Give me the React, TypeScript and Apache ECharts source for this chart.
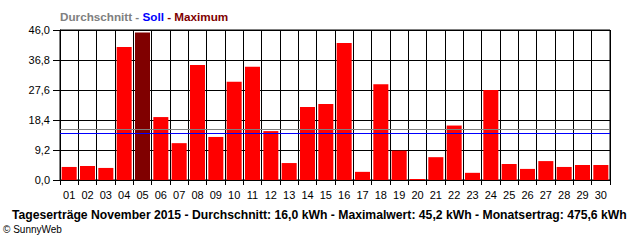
import React, { useEffect, useRef } from "react";
import * as echarts from "echarts";

const days = ["01","02","03","04","05","06","07","08","09","10","11","12","13","14","15","16","17","18","19","20","21","22","23","24","25","26","27","28","29","30"];
const yields = [4.0,4.3,3.7,40.8,45.2,19.3,11.3,35.3,13.2,30.1,34.7,15.0,5.2,22.4,23.3,42.0,2.5,29.4,9.0,0.3,7.0,16.7,2.2,27.6,4.9,3.4,5.8,4.0,4.6,4.6];
const maxIndex = 4;
const averageLine = 15.5;
const targetLine = 14.3;
const yMax = 46;
const yStep = 9.2;
const footer = "Tageserträge November 2015 - Durchschnitt: 16,0 kWh - Maximalwert: 45,2 kWh - Monatsertrag: 475,6 kWh";

const FONT = "'Liberation Sans', Arial, sans-serif";

const refLine = (value: number, color: string, z: number) => ({
  type: "line",
  data: [],
  z,
  color,
  markLine: {
    silent: true,
    symbol: "none",
    label: { show: false },
    lineStyle: { color, width: 1, type: "solid" },
    data: [{ yAxis: value }],
  },
});

export default function App() {
  const ref = useRef<HTMLDivElement>(null);
  useEffect(() => {
    if (!ref.current) return;
    const chart = echarts.init(ref.current, undefined, { renderer: "svg" });
    chart.setOption({
      animation: false,
      backgroundColor: "#ffffff",
      textStyle: { fontFamily: FONT },
      title: {
        left: 55,
        top: 5,
        text: "{a|Durchschnitt - }{b|Soll}{c| - Maximum}",
        textStyle: {
          rich: {
            a: { color: "#808080", fontWeight: "bold", fontSize: 11.7, fontFamily: FONT },
            b: { color: "#0000ff", fontWeight: "bold", fontSize: 11.7, fontFamily: FONT },
            c: { color: "#800000", fontWeight: "bold", fontSize: 11.7, fontFamily: FONT },
          },
        },
      },
      grid: { left: 60, right: 30, top: 30, bottom: 60, show: true, borderColor: "#000", borderWidth: 1 },
      xAxis: {
        type: "category",
        data: days,
        boundaryGap: true,
        axisLine: { lineStyle: { color: "#000", width: 1 } },
        axisTick: { show: true, length: 5, interval: 0, lineStyle: { color: "#000" } },
        axisLabel: { color: "#000", fontSize: 11, margin: 9, interval: 0, fontFamily: FONT },
        splitLine: { show: true, interval: 0, lineStyle: { color: "#000", width: 1 } },
      },
      yAxis: {
        type: "value",
        min: 0,
        max: yMax,
        interval: yStep,
        axisLine: { show: true, lineStyle: { color: "#000", width: 1 } },
        axisTick: { show: true, length: 7, lineStyle: { color: "#000" } },
        axisLabel: {
          color: "#000",
          fontSize: 11,
          margin: 10,
          fontFamily: FONT,
          formatter: (v: number) => v.toFixed(1).replace(".", ","),
        },
        splitLine: { show: true, lineStyle: { color: "#000", width: 1 } },
      },
      series: [
        refLine(averageLine, "#808080", 1),
        refLine(targetLine, "#0000ff", 1),
        {
          type: "bar",
          z: 3,
          barCategoryGap: "18%",
          data: yields.map((v, i) => ({
            value: v,
            itemStyle: { color: i === maxIndex ? "#800000" : "#ff0000" },
          })),
        },
      ],
      graphic: [
        {
          type: "text",
          left: 12,
          top: 209,
          style: { text: footer, fill: "#000", font: `bold 12.2px ${FONT}` },
        },
        {
          type: "text",
          left: 3,
          top: 224,
          style: { text: "© SunnyWeb", fill: "#000", font: `10px ${FONT}` },
        },
      ],
    });
    return () => chart.dispose();
  }, []);
  return <div ref={ref} style={{ width: 640, height: 240, position: "absolute", left: 0, top: 0 }} />;
}
